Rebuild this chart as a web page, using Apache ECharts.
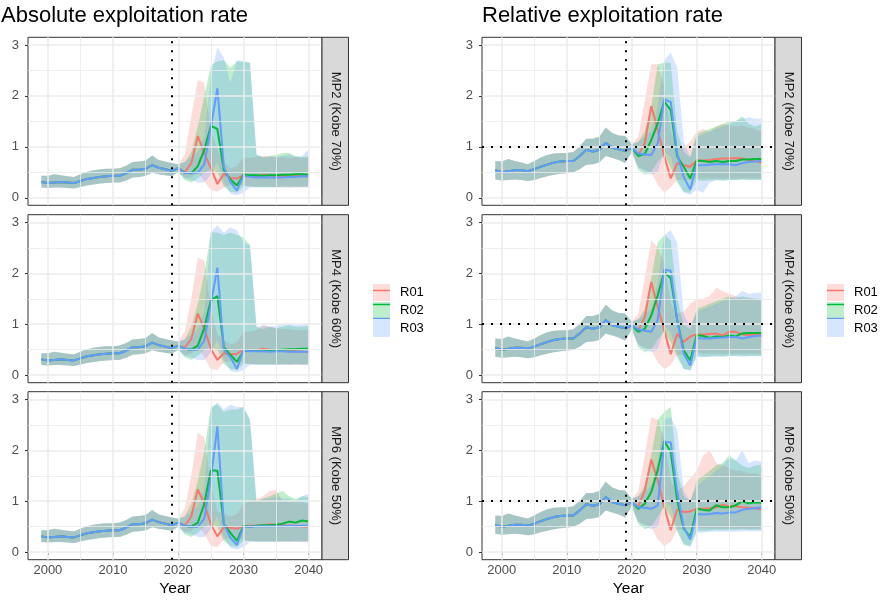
<!DOCTYPE html>
<html>
<head>
<meta charset="utf-8">
<script src="https://cdn.jsdelivr.net/npm/echarts@6/dist/echarts.min.js"></script>
<style>
html, body { margin: 0; padding: 0; background: #ffffff; }
#chart { width: 882px; height: 601px; }
</style>
</head>
<body>
<div id="chart"></div>
<script>
// ---- Years ----
const years = [1999, 2000, 2001, 2002, 2003, 2004, 2005, 2006, 2007, 2008, 2009,
  2010, 2011, 2012, 2013, 2014, 2015, 2016, 2017, 2018, 2019, 2020,
  2021, 2022, 2023, 2024, 2025, 2026, 2027, 2028, 2029, 2030,
  2031, 2032, 2033, 2034, 2035, 2036, 2037, 2038, 2039, 2040];
const runNames = ['R01', 'R02', 'R03'];
const stripLabels = ['MP2 (Kobe 70%)', 'MP4 (Kobe 60%)', 'MP6 (Kobe 50%)'];
const titles = ['Absolute exploitation rate', 'Relative exploitation rate'];
const lastHistYear = 2019;
const yTicks = [0, 1, 2, 3];
const xTicks = [2000, 2010, 2020, 2030, 2040];

// ---- Shared history, 1999-2020 (median, lower, upper) ----
const absHist   = [0.31, 0.29, 0.30, 0.31, 0.30, 0.29, 0.33, 0.37, 0.39, 0.41, 0.42, 0.43, 0.43, 0.48, 0.55, 0.55, 0.57, 0.64, 0.59, 0.56, 0.53, 0.58];
const absHistLo = [0.20, 0.19, 0.20, 0.20, 0.19, 0.18, 0.21, 0.24, 0.26, 0.28, 0.29, 0.30, 0.30, 0.34, 0.40, 0.41, 0.43, 0.49, 0.46, 0.44, 0.42, 0.50];
const absHistHi = [0.43, 0.43, 0.46, 0.44, 0.42, 0.41, 0.46, 0.51, 0.54, 0.56, 0.57, 0.57, 0.58, 0.63, 0.70, 0.71, 0.73, 0.83, 0.74, 0.71, 0.68, 0.66];
const relHist   = [0.54, 0.50, 0.52, 0.54, 0.54, 0.52, 0.56, 0.61, 0.65, 0.69, 0.71, 0.72, 0.72, 0.82, 0.94, 0.91, 0.94, 1.08, 0.98, 0.95, 0.92, 0.98];
const relHistLo = [0.36, 0.34, 0.35, 0.36, 0.35, 0.33, 0.35, 0.39, 0.42, 0.45, 0.47, 0.48, 0.50, 0.56, 0.65, 0.66, 0.69, 0.82, 0.78, 0.74, 0.68, 0.90];
const relHistHi = [0.72, 0.71, 0.76, 0.72, 0.69, 0.66, 0.72, 0.79, 0.84, 0.87, 0.88, 0.88, 0.90, 1.01, 1.16, 1.16, 1.20, 1.38, 1.27, 1.22, 1.21, 1.05];

// ---- Projections, 2021-2040: absolute exploitation rate ----
const absMP2R01   = [0.50, 0.68, 1.21, 0.87, 0.58, 0.27, 0.47, 0.39, 0.38, 0.44, 0.43, 0.42, 0.45, 0.44, 0.43, 0.43, 0.42, 0.43, 0.42, 0.42];
const absMP2R01Lo = [0.40, 0.40, 0.50, 0.33, 0.15, 0.12, 0.20, 0.25, 0.25, 0.25, 0.22, 0.21, 0.22, 0.21, 0.21, 0.21, 0.20, 0.21, 0.21, 0.21];
const absMP2R01Hi = [0.85, 1.60, 2.31, 2.26, 1.30, 0.95, 0.70, 0.58, 0.62, 0.80, 0.78, 0.80, 0.82, 0.82, 0.80, 0.80, 0.78, 0.80, 0.78, 0.78];
const absMP2R02   = [0.49, 0.48, 0.62, 0.94, 1.41, 1.35, 0.54, 0.36, 0.24, 0.45, 0.44, 0.44, 0.43, 0.44, 0.44, 0.45, 0.45, 0.46, 0.46, 0.45];
const absMP2R02Lo = [0.35, 0.30, 0.38, 0.50, 0.55, 0.50, 0.22, 0.12, 0.10, 0.22, 0.22, 0.21, 0.21, 0.21, 0.21, 0.22, 0.22, 0.22, 0.22, 0.22];
const absMP2R02Hi = [0.70, 0.90, 1.40, 2.00, 2.60, 2.68, 2.70, 2.55, 2.68, 2.67, 2.65, 0.85, 0.80, 0.82, 0.84, 0.88, 0.88, 0.82, 0.80, 0.82];
const absMP2R03   = [0.48, 0.49, 0.49, 0.66, 1.38, 2.15, 0.60, 0.31, 0.14, 0.43, 0.41, 0.40, 0.40, 0.40, 0.40, 0.40, 0.41, 0.41, 0.42, 0.42];
const absMP2R03Lo = [0.38, 0.35, 0.30, 0.30, 0.45, 0.70, 0.30, 0.08, 0.05, 0.10, 0.20, 0.20, 0.20, 0.20, 0.20, 0.20, 0.20, 0.20, 0.20, 0.20];
const absMP2R03Hi = [0.70, 0.80, 0.90, 1.20, 2.40, 2.95, 2.75, 2.25, 2.70, 2.68, 2.65, 0.85, 0.78, 0.80, 0.80, 0.82, 0.85, 0.80, 0.82, 0.95];

const absMP4R01   = [0.54, 0.71, 1.21, 0.91, 0.52, 0.30, 0.43, 0.41, 0.42, 0.50, 0.48, 0.49, 0.52, 0.50, 0.49, 0.48, 0.47, 0.47, 0.46, 0.45];
const absMP4R01Lo = [0.40, 0.42, 0.55, 0.35, 0.12, 0.10, 0.25, 0.28, 0.26, 0.25, 0.22, 0.22, 0.22, 0.22, 0.21, 0.21, 0.20, 0.21, 0.20, 0.20];
const absMP4R01Hi = [0.85, 1.50, 2.31, 2.25, 1.30, 0.80, 0.70, 0.60, 0.65, 0.85, 0.85, 0.88, 0.98, 0.95, 0.92, 0.90, 0.90, 0.88, 0.88, 0.88];
const absMP4R02   = [0.52, 0.50, 0.58, 0.93, 1.47, 1.55, 0.55, 0.40, 0.26, 0.47, 0.48, 0.48, 0.48, 0.49, 0.49, 0.50, 0.51, 0.51, 0.52, 0.52];
const absMP4R02Lo = [0.35, 0.30, 0.38, 0.50, 0.55, 0.50, 0.22, 0.12, 0.10, 0.22, 0.22, 0.21, 0.21, 0.21, 0.21, 0.22, 0.22, 0.22, 0.22, 0.22];
const absMP4R02Hi = [0.70, 0.95, 1.40, 2.00, 2.80, 2.80, 2.75, 2.80, 2.75, 2.70, 2.55, 0.95, 0.90, 0.95, 0.92, 0.95, 0.98, 0.95, 0.95, 0.97];
const absMP4R03   = [0.52, 0.50, 0.50, 0.68, 1.40, 2.11, 0.50, 0.35, 0.12, 0.49, 0.47, 0.47, 0.47, 0.46, 0.47, 0.47, 0.46, 0.46, 0.46, 0.46];
const absMP4R03Lo = [0.38, 0.35, 0.30, 0.30, 0.45, 0.70, 0.30, 0.08, 0.05, 0.10, 0.20, 0.20, 0.20, 0.20, 0.20, 0.20, 0.20, 0.20, 0.20, 0.20];
const absMP4R03Hi = [0.70, 0.80, 0.90, 1.25, 2.80, 2.95, 2.80, 2.90, 2.85, 2.60, 2.55, 0.95, 0.98, 0.95, 0.97, 1.00, 1.02, 0.98, 1.00, 1.02];

const absMP6R01   = [0.52, 0.70, 1.23, 0.95, 0.55, 0.31, 0.49, 0.48, 0.46, 0.51, 0.52, 0.52, 0.53, 0.55, 0.54, 0.53, 0.52, 0.52, 0.51, 0.50];
const absMP6R01Lo = [0.40, 0.42, 0.55, 0.35, 0.12, 0.10, 0.25, 0.28, 0.26, 0.25, 0.22, 0.22, 0.22, 0.22, 0.21, 0.21, 0.20, 0.21, 0.20, 0.20];
const absMP6R01Hi = [0.85, 1.50, 2.35, 2.25, 1.30, 0.80, 0.75, 0.70, 0.75, 0.95, 1.00, 1.05, 1.10, 1.20, 1.22, 1.00, 1.00, 0.98, 0.98, 0.95];
const absMP6R02   = [0.52, 0.50, 0.58, 0.95, 1.61, 1.60, 0.55, 0.38, 0.22, 0.52, 0.50, 0.52, 0.53, 0.53, 0.54, 0.56, 0.60, 0.58, 0.62, 0.60];
const absMP6R02Lo = [0.35, 0.30, 0.38, 0.50, 0.55, 0.50, 0.22, 0.12, 0.10, 0.22, 0.22, 0.21, 0.21, 0.21, 0.21, 0.22, 0.22, 0.22, 0.22, 0.22];
const absMP6R02Hi = [0.70, 0.95, 1.40, 2.00, 2.85, 2.90, 2.75, 2.80, 2.80, 2.85, 2.60, 1.00, 1.05, 1.10, 1.15, 1.20, 1.10, 1.05, 1.10, 1.08];
const absMP6R03   = [0.52, 0.50, 0.50, 0.66, 1.45, 2.47, 0.55, 0.28, 0.14, 0.50, 0.50, 0.51, 0.51, 0.51, 0.51, 0.51, 0.52, 0.51, 0.52, 0.52];
const absMP6R03Lo = [0.38, 0.35, 0.30, 0.30, 0.45, 0.70, 0.30, 0.08, 0.05, 0.10, 0.20, 0.20, 0.20, 0.20, 0.20, 0.20, 0.20, 0.20, 0.20, 0.20];
const absMP6R03Hi = [0.70, 0.80, 0.90, 1.25, 2.80, 2.95, 2.80, 2.90, 2.85, 2.85, 2.60, 1.00, 1.05, 1.05, 1.10, 1.05, 1.05, 1.00, 1.10, 1.15];

// ---- Projections, 2021-2040: relative exploitation rate ----
const relMP2R01   = [0.84, 1.07, 1.80, 1.33, 0.82, 0.38, 0.68, 0.64, 0.61, 0.73, 0.73, 0.74, 0.76, 0.77, 0.77, 0.78, 0.77, 0.74, 0.72, 0.69];
const relMP2R01Lo = [0.60, 0.55, 0.50, 0.25, 0.10, 0.20, 0.35, 0.35, 0.35, 0.38, 0.38, 0.38, 0.38, 0.38, 0.38, 0.38, 0.38, 0.38, 0.38, 0.38];
const relMP2R01Hi = [1.20, 1.90, 2.62, 2.62, 2.20, 1.30, 1.00, 1.00, 1.10, 1.30, 1.35, 1.30, 1.40, 1.45, 1.42, 1.40, 1.42, 1.38, 1.35, 1.30];
const relMP2R02   = [0.82, 0.86, 1.13, 1.46, 1.89, 1.72, 0.81, 0.61, 0.38, 0.73, 0.72, 0.70, 0.72, 0.70, 0.72, 0.72, 0.75, 0.75, 0.76, 0.76];
const relMP2R02Lo = [0.55, 0.45, 0.50, 0.70, 0.85, 0.60, 0.30, 0.12, 0.10, 0.35, 0.33, 0.34, 0.35, 0.34, 0.35, 0.35, 0.36, 0.35, 0.35, 0.35];
const relMP2R02Hi = [1.10, 1.30, 1.80, 2.62, 2.65, 2.65, 1.30, 0.90, 0.80, 1.25, 1.30, 1.35, 1.40, 1.45, 1.50, 1.50, 1.60, 1.45, 1.40, 1.45];
const relMP2R03   = [0.87, 0.85, 0.84, 1.07, 1.93, 1.88, 0.87, 0.41, 0.16, 0.64, 0.64, 0.65, 0.66, 0.66, 0.66, 0.64, 0.68, 0.70, 0.71, 0.72];
const relMP2R03Lo = [0.60, 0.50, 0.45, 0.50, 0.90, 0.80, 0.35, 0.10, 0.06, 0.15, 0.10, 0.30, 0.35, 0.34, 0.35, 0.35, 0.36, 0.36, 0.36, 0.36];
const relMP2R03Hi = [1.10, 1.20, 1.30, 1.80, 2.70, 2.85, 2.55, 1.10, 0.80, 1.20, 1.25, 1.30, 1.35, 1.40, 1.45, 1.50, 1.55, 1.58, 1.55, 1.55];

const relMP4R01   = [0.88, 1.14, 1.83, 1.34, 0.88, 0.41, 0.81, 0.65, 0.76, 0.80, 0.80, 0.81, 0.82, 0.78, 0.85, 0.85, 0.80, 0.79, 0.80, 0.78];
const relMP4R01Lo = [0.60, 0.55, 0.50, 0.25, 0.12, 0.20, 0.40, 0.40, 0.42, 0.45, 0.42, 0.42, 0.42, 0.42, 0.42, 0.42, 0.42, 0.42, 0.42, 0.42];
const relMP4R01Hi = [1.20, 1.90, 2.65, 2.50, 2.20, 1.40, 1.20, 1.25, 1.40, 1.50, 1.50, 1.55, 1.72, 1.65, 1.60, 1.55, 1.50, 1.50, 1.50, 1.45];
const relMP4R02   = [0.85, 0.91, 1.17, 1.57, 2.03, 1.90, 1.08, 0.49, 0.29, 0.79, 0.77, 0.73, 0.76, 0.75, 0.78, 0.76, 0.82, 0.83, 0.83, 0.83];
const relMP4R02Lo = [0.55, 0.45, 0.50, 0.70, 0.85, 0.65, 0.35, 0.12, 0.10, 0.38, 0.36, 0.37, 0.38, 0.37, 0.38, 0.38, 0.38, 0.38, 0.38, 0.38];
const relMP4R02Hi = [1.10, 1.30, 1.90, 2.60, 2.75, 2.65, 1.50, 1.00, 0.90, 1.30, 1.35, 1.40, 1.45, 1.50, 1.55, 1.50, 1.55, 1.52, 1.50, 1.50];
const relMP4R03   = [0.90, 0.87, 0.85, 1.08, 2.07, 2.05, 1.08, 0.42, 0.19, 0.73, 0.72, 0.72, 0.73, 0.74, 0.75, 0.75, 0.72, 0.75, 0.77, 0.78];
const relMP4R03Lo = [0.60, 0.50, 0.45, 0.50, 0.95, 0.85, 0.40, 0.12, 0.08, 0.35, 0.35, 0.36, 0.36, 0.36, 0.37, 0.37, 0.36, 0.37, 0.37, 0.37];
const relMP4R03Hi = [1.10, 1.20, 1.30, 1.80, 2.75, 2.85, 2.60, 1.20, 0.95, 1.25, 1.30, 1.35, 1.40, 1.45, 1.50, 1.55, 1.65, 1.60, 1.62, 1.62];

const relMP6R01   = [0.90, 1.21, 1.82, 1.41, 0.89, 0.43, 0.84, 0.79, 0.80, 0.85, 0.85, 0.86, 0.88, 0.93, 0.90, 0.90, 0.88, 0.87, 0.86, 0.84];
const relMP6R01Lo = [0.60, 0.55, 0.50, 0.25, 0.12, 0.20, 0.45, 0.45, 0.45, 0.48, 0.46, 0.46, 0.46, 0.46, 0.46, 0.46, 0.46, 0.46, 0.46, 0.46];
const relMP6R01Hi = [1.20, 1.90, 2.65, 2.60, 2.20, 1.40, 1.20, 1.30, 1.45, 1.60, 1.90, 2.00, 1.75, 1.70, 1.65, 1.60, 1.60, 1.55, 1.55, 1.50];
const relMP6R02   = [0.85, 0.95, 1.18, 1.61, 2.18, 1.97, 1.02, 0.46, 0.30, 0.85, 0.83, 0.82, 0.92, 0.88, 0.88, 0.92, 1.00, 0.96, 0.98, 0.97];
const relMP6R02Lo = [0.55, 0.45, 0.50, 0.70, 0.90, 0.70, 0.40, 0.15, 0.12, 0.42, 0.42, 0.42, 0.44, 0.43, 0.44, 0.44, 0.45, 0.44, 0.44, 0.44];
const relMP6R02Hi = [1.10, 1.30, 1.90, 2.60, 2.75, 2.85, 1.60, 1.10, 1.00, 1.40, 1.50, 1.60, 1.70, 1.75, 1.90, 1.80, 1.70, 1.65, 1.70, 1.72];
const relMP6R03   = [0.88, 0.87, 0.85, 0.92, 2.16, 2.16, 1.18, 0.49, 0.25, 0.75, 0.74, 0.75, 0.77, 0.76, 0.78, 0.78, 0.83, 0.85, 0.86, 0.88];
const relMP6R03Lo = [0.60, 0.50, 0.45, 0.50, 1.00, 0.90, 0.45, 0.15, 0.10, 0.38, 0.38, 0.40, 0.40, 0.40, 0.40, 0.40, 0.41, 0.41, 0.41, 0.41];
const relMP6R03Hi = [1.10, 1.20, 1.30, 1.80, 2.60, 2.65, 2.40, 1.20, 1.00, 1.30, 1.40, 1.50, 1.60, 1.70, 1.85, 1.80, 2.00, 1.75, 1.80, 1.78];

// ---- Styling ----
const FONT = "'Liberation Sans', Arial, Helvetica, sans-serif";
const lineColors = ['#F8766D', '#00BA38', '#619CFF'];
const fillColors = ['rgba(248,118,109,0.25)', 'rgba(0,186,56,0.25)', 'rgba(97,156,255,0.25)'];

// panel layout: 3 rows x 2 columns
const panelW = [294, 293];
const panelH = 168;
const colLeft = [28, 482];
const rowTop = [37.3, 214.7, 391.7];
const stripW = 26.5;

// each panel: history arrays + the three runs (median, lower, upper)
const panels = [
  { col: 0, row: 0, hist: [absHist, absHistLo, absHistHi], runs: [[absMP2R01, absMP2R01Lo, absMP2R01Hi], [absMP2R02, absMP2R02Lo, absMP2R02Hi], [absMP2R03, absMP2R03Lo, absMP2R03Hi]], refLine: false },
  { col: 0, row: 1, hist: [absHist, absHistLo, absHistHi], runs: [[absMP4R01, absMP4R01Lo, absMP4R01Hi], [absMP4R02, absMP4R02Lo, absMP4R02Hi], [absMP4R03, absMP4R03Lo, absMP4R03Hi]], refLine: false },
  { col: 0, row: 2, hist: [absHist, absHistLo, absHistHi], runs: [[absMP6R01, absMP6R01Lo, absMP6R01Hi], [absMP6R02, absMP6R02Lo, absMP6R02Hi], [absMP6R03, absMP6R03Lo, absMP6R03Hi]], refLine: false },
  { col: 1, row: 0, hist: [relHist, relHistLo, relHistHi], runs: [[relMP2R01, relMP2R01Lo, relMP2R01Hi], [relMP2R02, relMP2R02Lo, relMP2R02Hi], [relMP2R03, relMP2R03Lo, relMP2R03Hi]], refLine: true },
  { col: 1, row: 1, hist: [relHist, relHistLo, relHistHi], runs: [[relMP4R01, relMP4R01Lo, relMP4R01Hi], [relMP4R02, relMP4R02Lo, relMP4R02Hi], [relMP4R03, relMP4R03Lo, relMP4R03Hi]], refLine: true },
  { col: 1, row: 2, hist: [relHist, relHistLo, relHistHi], runs: [[relMP6R01, relMP6R01Lo, relMP6R01Hi], [relMP6R02, relMP6R02Lo, relMP6R02Hi], [relMP6R03, relMP6R03Lo, relMP6R03Hi]], refLine: true }
];

// one filled polygon per run: upper edge left-to-right, lower edge back
function ribbonRenderer(xs, lo, hi, fill) {
  return function (params, api) {
    if (params.dataIndex !== 0) return null;
    const pts = [];
    for (let i = 0; i < xs.length; i++) pts.push(api.coord([xs[i], hi[i]]));
    for (let i = xs.length - 1; i >= 0; i--) pts.push(api.coord([xs[i], lo[i]]));
    return { type: 'polygon', shape: { points: pts }, style: { fill: fill }, silent: true };
  };
}

const grids = [], xAxes = [], yAxes = [], series = [], graphics = [];

const majorGrid = { color: '#EBEBEB', width: 1.5, type: 'solid' };
const minorGrid = { color: '#EBEBEB', width: 0.8, type: 'solid' };

panels.forEach(function (p, g) {
  const left = colLeft[p.col], top = rowTop[p.row], w = panelW[p.col];
  const isBottom = p.row === 2;
  grids.push({ left: left, top: top, width: w, height: panelH, show: true,
    borderColor: '#333333', borderWidth: 1, backgroundColor: 'transparent', containLabel: false });

  xAxes.push({
    type: 'value', gridIndex: g, min: 1996.95, max: 2042.05,
    axisLine: { show: false }, splitLine: { show: false },
    axisTick: { show: isBottom, length: 3, lineStyle: { color: '#333333' }, customValues: xTicks },
    axisLabel: { show: isBottom, customValues: xTicks, margin: 4, fontSize: 13, color: '#4D4D4D', fontFamily: FONT,
      formatter: function (v) { return String(v); } },
    name: isBottom ? 'Year' : '', nameLocation: 'middle', nameGap: 21,
    nameTextStyle: { fontSize: 15.5, color: '#000000', fontFamily: FONT }
  });
  yAxes.push({
    type: 'value', gridIndex: g, min: -0.148, max: 3.15,
    axisLine: { show: false }, splitLine: { show: false },
    axisTick: { show: true, length: 3, lineStyle: { color: '#333333' }, customValues: yTicks },
    axisLabel: { customValues: yTicks, margin: 9, fontSize: 13, color: '#4D4D4D', fontFamily: FONT,
      formatter: function (v) { return String(v); } }
  });

  // background grid lines
  const gl = [];
  [2000, 2010, 2020, 2030, 2040].forEach(function (x) { gl.push({ xAxis: x, lineStyle: majorGrid }); });
  [2005, 2015, 2025, 2035].forEach(function (x) { gl.push({ xAxis: x, lineStyle: minorGrid }); });
  [0, 1, 2, 3].forEach(function (y) { gl.push({ yAxis: y, lineStyle: majorGrid }); });
  [0.5, 1.5, 2.5].forEach(function (y) { gl.push({ yAxis: y, lineStyle: minorGrid }); });
  series.push({
    type: 'line', xAxisIndex: g, yAxisIndex: g, data: [], z: 1, silent: true,
    markLine: { silent: true, symbol: 'none', label: { show: false }, animation: false, data: gl }
  });

  // lines for the three runs (history + projection)
  p.runs.forEach(function (r, k) {
    const med = p.hist[0].concat(r[0]);
    series.push({
      name: runNames[k], type: 'line', xAxisIndex: g, yAxisIndex: g, z: 4,
      data: years.map(function (y, i) { return [y, med[i]]; }),
      showSymbol: false, symbol: 'none', silent: true,
      lineStyle: { color: lineColors[k], width: 2 }, itemStyle: { color: lineColors[k] },
      emphasis: { disabled: true }
    });
  });

  // uncertainty ribbons
  p.runs.forEach(function (r, k) {
    const lo = p.hist[1].concat(r[1]);
    const hi = p.hist[2].concat(r[2]);
    series.push({
      name: runNames[k], type: 'custom', xAxisIndex: g, yAxisIndex: g, z: 2, silent: true,
      data: years.map(function (y, i) { return [y, lo[i], hi[i]]; }),
      encode: { x: 0, y: [1, 2] },
      itemStyle: { color: lineColors[k] },
      renderItem: ribbonRenderer(years, lo, hi, fillColors[k])
    });
  });

  // reference lines: last assessment year, and level 1 for the relative rate
  const refs = [{ xAxis: lastHistYear }];
  if (p.refLine) refs.push({ yAxis: 1 });
  series.push({
    type: 'line', xAxisIndex: g, yAxisIndex: g, data: [], z: 5, silent: true,
    markLine: { silent: true, symbol: 'none', label: { show: false }, animation: false,
      lineStyle: { color: '#000000', width: 2, type: [2, 7] }, data: refs }
  });

  // facet strip on the right
  const sx = left + w;
  graphics.push({
    type: 'rect', shape: { x: sx, y: top, width: stripW, height: panelH },
    style: { fill: '#D9D9D9', stroke: '#333333', lineWidth: 1 }, silent: true, z: 10
  });
  graphics.push({
    type: 'text', x: sx + stripW / 2, y: top + panelH / 2, rotation: -Math.PI / 2,
    style: { text: stripLabels[p.row], fontSize: 13, fill: '#1A1A1A', fontFamily: FONT, align: 'center', verticalAlign: 'middle' },
    silent: true, z: 11
  });
});

function legendPair(left) {
  const base = { orient: 'vertical', left: left, top: 284, itemWidth: 17, itemHeight: 17, itemGap: 1,
    padding: 0, selectedMode: false };
  return [
    Object.assign({}, base, {
      icon: 'rect', z: 6,
      textStyle: { fontSize: 13, color: '#000000', fontFamily: FONT, padding: [0, 0, 0, 5] },
      data: runNames.map(function (n, k) { return { name: n, itemStyle: { color: fillColors[k], borderWidth: 0 } }; })
    }),
    Object.assign({}, base, {
      icon: 'path://M0,0L34,0L34,3L0,3Z', z: 7,
      textStyle: { fontSize: 13, color: 'rgba(0,0,0,0)', fontFamily: FONT, padding: [0, 0, 0, 5] },
      data: runNames.map(function (n, k) { return { name: n, itemStyle: { color: lineColors[k], borderWidth: 0 } }; })
    })
  ];
}

const chart = echarts.init(document.getElementById('chart'), null, { renderer: 'canvas' });
chart.setOption({
  animation: false,
  backgroundColor: '#ffffff',
  textStyle: { fontFamily: FONT },
  title: [
    { text: titles[0], left: 1, top: 5, padding: 0, textStyle: { fontSize: 22, fontWeight: 'normal', color: '#000000', fontFamily: FONT } },
    { text: titles[1], left: 482, top: 5, padding: 0, textStyle: { fontSize: 22, fontWeight: 'normal', color: '#000000', fontFamily: FONT } }
  ],
  legend: legendPair(373).concat(legendPair(827)),
  grid: grids,
  xAxis: xAxes,
  yAxis: yAxes,
  series: series,
  graphic: graphics
});
</script>
</body>
</html>
